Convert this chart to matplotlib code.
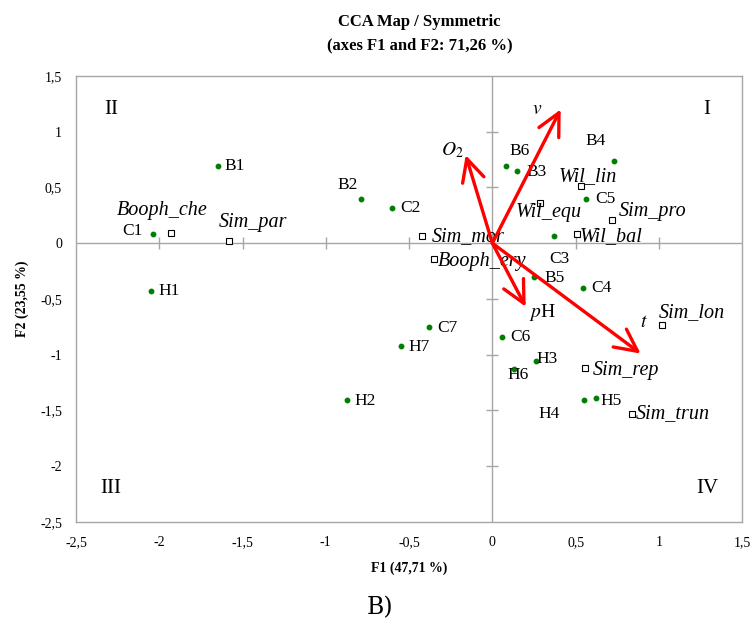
import matplotlib
matplotlib.use("Agg")
import matplotlib.pyplot as plt
import numpy as np
from matplotlib.patches import FancyArrowPatch

plt.rcParams["font.family"] = ["Liberation Serif", "DejaVu Serif"]
plt.rcParams["mathtext.fontset"] = "stix"

# sites (green dots)
SITES = ["B1", "C1", "H1", "B2", "C2", "B6", "B3", "B4", "C5", "C3", "B5", "C4",
         "C7", "H7", "H2", "C6", "H3", "H6", "H4", "H5"]
SITE_X = [-1.65, -2.04, -2.05, -0.79, -0.60, 0.08, 0.15, 0.73, 0.565, 0.37, 0.25, 0.545,
          -0.38, -0.55, -0.87, 0.055, 0.26, 0.13, 0.55, 0.62]
SITE_Y = [0.69, 0.08, -0.43, 0.40, 0.32, 0.69, 0.65, 0.74, 0.40, 0.065, -0.30, -0.40,
          -0.75, -0.92, -1.41, -0.84, -1.06, -1.13, -1.41, -1.39]

# species (open squares)
SPECIES = ["Booph_che", "Sim_par", "Sim_mor", "Booph_ery", "Wil_lin", "Wil_equ",
           "Sim_pro", "Wil_bal", "Sim_lon", "Sim_rep", "Sim_trun"]
SPEC_X = [-1.93, -1.58, -0.42, -0.35, 0.53, 0.285, 0.72, 0.51, 1.02, 0.555, 0.84]
SPEC_Y = [0.09, 0.02, 0.065, -0.145, 0.51, 0.365, 0.21, 0.085, -0.73, -1.12, -1.53]

# environmental variables (arrows from origin)
ENV = ["$v$", "$O_2$", "$p$H", "$t$"]
ENV_X = [0.41, -0.16, 0.20, 0.89]
ENV_Y = [1.20, 0.79, -0.57, -0.99]

QUADRANTS = ["I", "II", "III", "IV"]
QUAD_X = [1.29, -2.29, -2.29, 1.29]
QUAD_Y = [1.2, 1.2, -2.2, -2.2]

XTICKS = np.arange(-2.5, 1.51, 0.5)
YTICKS = np.arange(-2.5, 1.51, 0.5)

# label offsets in pixels (dx, dy, ha)
SITE_OFF = {
    "B1": (7, 0, "left"), "C1": (-10, 3, "right"), "H1": (8, 0, "left"),
    "B2": (-13, 14, "center"), "C2": (8, 0, "left"), "B6": (14, 15, "center"),
    "B3": (9, -1, "left"), "B4": (-18, 20, "center"), "C5": (9, 0, "left"),
    "C3": (5, -23, "center"), "B5": (10, -1, "left"), "C4": (8, 0, "left"),
    "C7": (8, -1, "left"), "H7": (8, -1, "left"), "H2": (7, -1, "left"),
    "C6": (9, 0, "left"), "H3": (1, 2, "left"), "H6": (-7, -6, "left"),
    "H4": (-35, -14, "center"), "H5": (5, -3, "left"),
}
SPEC_OFF = {
    "Booph_che": (-9, 23, "center"), "Sim_par": (24, 18, "center"),
    "Sim_mor": (9, -1, "left"), "Booph_ery": (4, -2, "left"),
    "Wil_lin": (7, 10, "center"), "Wil_equ": (9, -10, "center"),
    "Sim_pro": (6, 8, "left"), "Wil_bal": (2, -3, "left"),
    "Sim_lon": (-4, 12, "left"), "Sim_rep": (8, -2, "left"),
    "Sim_trun": (3, 0, "left"),
}
ENV_OFF = [(-24, 0), (-13, 5), (17, -6), (3, 31)]

GRID_GREY = "#a6a6a6"

fig = plt.figure(figsize=(7.52, 6.28), dpi=100)
ax = fig.add_axes([0.101, 0.169, 0.886, 0.710])
ax.set_xlim(-2.5, 1.5)
ax.set_ylim(-2.5, 1.5)

for s in ax.spines.values():
    s.set_color(GRID_GREY)
    s.set_linewidth(1.0)

ax.set_xticks(XTICKS)
ax.set_yticks(YTICKS)
ax.set_xticklabels([f"{t:g}".replace(".", ",") for t in XTICKS], fontsize=10)
ax.set_yticklabels([f"{t:g}".replace(".", ",") for t in YTICKS], fontsize=10)
ax.tick_params(length=0, pad=10)

# zero axes with crossing tick marks
ax.axhline(0, color=GRID_GREY, lw=1.0, zorder=1)
ax.axvline(0, color=GRID_GREY, lw=1.0, zorder=1)
ax.plot(XTICKS[1:-1], np.zeros(len(XTICKS) - 2), ls="none", marker="|",
        ms=9, mew=1.0, color=GRID_GREY, zorder=1)
ax.plot(np.zeros(len(YTICKS) - 2), YTICKS[1:-1], ls="none", marker="_",
        ms=9, mew=1.0, color=GRID_GREY, zorder=1)

# sites
ax.plot(SITE_X, SITE_Y, ls="none", marker="o", ms=3.2, color="#008000", zorder=3)
for name, x, y in zip(SITES, SITE_X, SITE_Y):
    dx, dy, ha = SITE_OFF[name]
    ax.annotate(name, (x, y), xytext=(dx, dy), textcoords="offset pixels",
                ha=ha, va="center", fontsize=12.5, zorder=4)

# species
ax.plot(SPEC_X, SPEC_Y, ls="none", marker="s", ms=4, mfc="white", mec="black",
        mew=0.8, zorder=3)
for name, x, y in zip(SPECIES, SPEC_X, SPEC_Y):
    dx, dy, ha = SPEC_OFF[name]
    ax.annotate(name, (x, y), xytext=(dx, dy), textcoords="offset pixels",
                ha=ha, va="center", fontsize=14.5, style="italic", zorder=4)

# environmental arrows
for name, x, y, (dx, dy) in zip(ENV, ENV_X, ENV_Y, ENV_OFF):
    arr = FancyArrowPatch((0, 0), (x, y), arrowstyle="->,head_length=0.8,head_width=0.4",
                          mutation_scale=20, color="#ff0000", lw=2.4,
                          shrinkA=0, shrinkB=0, zorder=5)
    ax.add_patch(arr)
    ax.annotate(name, (x, y), xytext=(dx, dy), textcoords="offset pixels",
                ha="center", va="center", fontsize=14, zorder=4)

for name, x, y in zip(QUADRANTS, QUAD_X, QUAD_Y):
    ax.text(x, y, name, ha="center", va="center", fontsize=15)

ax.set_xlabel("F1 (47,71 %)", fontsize=10, fontweight="bold", labelpad=9)
ax.set_ylabel("F2 (23,55 %)", fontsize=10, fontweight="bold", labelpad=8)

fig.text(0.558, 0.946, "CCA Map / Symmetric\n(axes F1 and F2: 71,26 %)",
         ha="center", va="center", fontsize=12, fontweight="bold", linespacing=1.6)
fig.text(0.505, 0.033, "B)", ha="center", va="center", fontsize=17,
         family=["DejaVu Serif"])

fig.savefig("out.png", dpi=100)
